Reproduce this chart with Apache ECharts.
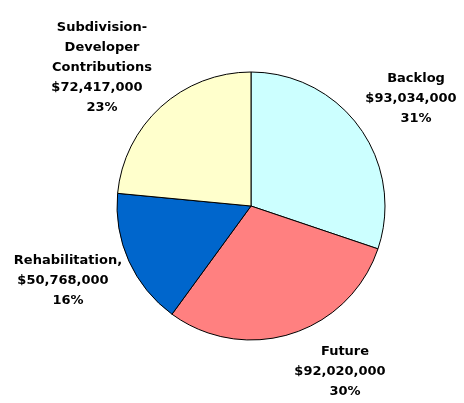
<!DOCTYPE html>
<html>
<head>
<meta charset="utf-8">
<script src="https://cdn.jsdelivr.net/npm/echarts@6/dist/echarts.min.js"></script>
<style>
  html, body { margin: 0; padding: 0; background: #ffffff; }
  #chart { width: 464px; height: 403px; }
</style>
</head>
<body>
<div id="chart"></div>
<script>
// Capital funding sources
const categories = ['Backlog', 'Future', 'Rehabilitation,', 'Subdivision-\nDeveloper\nContributions'];
const amounts = [93034000, 92020000, 50768000, 72417000];
const percentLabels = ['31%', '30%', '16%', '23%'];
const sliceColors = ['#CCFFFF', '#FF8080', '#0066CC', '#FFFFCC'];

// label anchor points (centre of each text block)
const labelAnchors = [[416, 99], [345, 372], [68, 281], [102, 68]];

const fmtMoney = v => '$' + v.toLocaleString('en-US');

const chart = echarts.init(document.getElementById('chart'), null, { renderer: 'canvas' });

const textStyle = { fontFamily: 'DejaVu Sans', fontWeight: 'bold', fontSize: 13, lineHeight: 20, color: '#000' };

chart.setOption({
  backgroundColor: '#ffffff',
  animation: false,
  series: [{
    type: 'pie',
    center: [251, 206],
    radius: 134,
    startAngle: 90,
    clockwise: true,
    avoidLabelOverlap: false,
    itemStyle: { borderColor: '#000000', borderWidth: 1 },
    emphasis: { disabled: true },
    label: Object.assign({
      show: true,
      position: 'outside',
      align: 'center',
      formatter: p => {
        const nameLines = p.name.split('\n').map(s => '{n|' + s + '}').join('\n');
        return nameLines + '\n{v|' + fmtMoney(p.value) + '}\n{n|' + percentLabels[p.dataIndex] + '}';
      },
      rich: {
        n: Object.assign({}, textStyle),
        v: Object.assign({ padding: [0, 10, 0, 0] }, textStyle)
      }
    }, textStyle),
    labelLine: { show: false },
    labelLayout: params => ({
      x: labelAnchors[params.dataIndex][0],
      y: labelAnchors[params.dataIndex][1],
      align: 'center',
      verticalAlign: 'middle'
    }),
    data: categories.map((c, i) => ({
      name: c,
      value: amounts[i],
      itemStyle: { color: sliceColors[i] }
    }))
  }]
});
</script>
</body>
</html>
